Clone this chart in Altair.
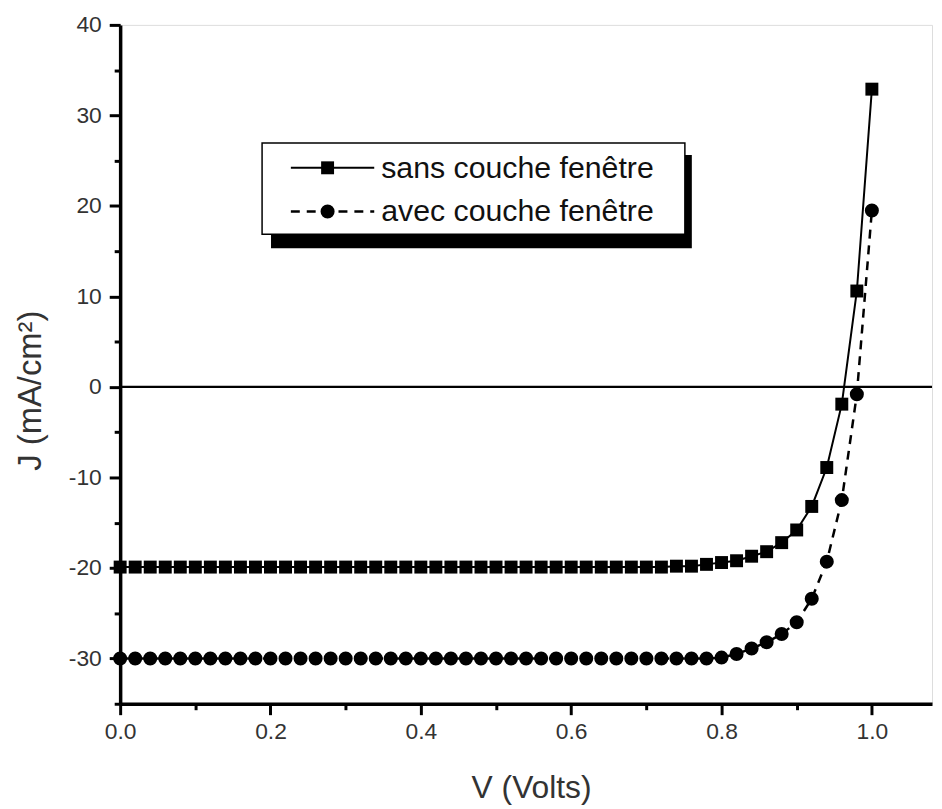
import altair as alt
import pandas as pd

# ---- data ----
V = [0.00, 0.02, 0.04, 0.06, 0.08, 0.10, 0.12, 0.14, 0.16, 0.18,
     0.20, 0.22, 0.24, 0.26, 0.28, 0.30, 0.32, 0.34, 0.36, 0.38,
     0.40, 0.42, 0.44, 0.46, 0.48, 0.50, 0.52, 0.54, 0.56, 0.58,
     0.60, 0.62, 0.64, 0.66, 0.68, 0.70, 0.72, 0.74, 0.76, 0.78,
     0.80, 0.82, 0.84, 0.86, 0.88, 0.90, 0.92, 0.94, 0.96, 0.98, 1.00]

J_sans = [-19.9, -19.9, -19.9, -19.9, -19.9, -19.9, -19.9, -19.9, -19.9, -19.9,
          -19.9, -19.9, -19.9, -19.9, -19.9, -19.9, -19.9, -19.9, -19.9, -19.9,
          -19.9, -19.9, -19.9, -19.9, -19.9, -19.9, -19.9, -19.9, -19.9, -19.9,
          -19.9, -19.9, -19.9, -19.9, -19.9, -19.9, -19.9, -19.8, -19.8, -19.6,
          -19.4, -19.2, -18.7, -18.2, -17.2, -15.8, -13.2, -8.9, -1.9, 10.6, 32.9]

J_avec = [-30.0, -30.0, -30.0, -30.0, -30.0, -30.0, -30.0, -30.0, -30.0, -30.0,
          -30.0, -30.0, -30.0, -30.0, -30.0, -30.0, -30.0, -30.0, -30.0, -30.0,
          -30.0, -30.0, -30.0, -30.0, -30.0, -30.0, -30.0, -30.0, -30.0, -30.0,
          -30.0, -30.0, -30.0, -30.0, -30.0, -30.0, -30.0, -30.0, -30.0, -30.0,
          -29.9, -29.5, -28.9, -28.2, -27.3, -26.0, -23.4, -19.3, -12.5, -0.8, 19.5]

series_names = ["sans couche fenêtre", "avec couche fenêtre"]

x_ticks = [0.0, 0.1, 0.2, 0.3, 0.4, 0.5, 0.6, 0.7, 0.8, 0.9, 1.0]
y_ticks = [-35, -30, -25, -20, -15, -10, -5, 0, 5, 10, 15, 20, 25, 30, 35, 40]

# ---- tables ----
df_sans = pd.DataFrame({"V": V, "J": J_sans})
df_avec = pd.DataFrame({"V": V, "J": J_avec})
df_zero = pd.DataFrame({"J": [0]})
df_one = pd.DataFrame({"a": [0]})

W, H = 818, 684
FONT = "Liberation Sans"

xscale = alt.Scale(domain=[0, 1.08], nice=False, zero=False)
yscale = alt.Scale(domain=[-35, 40], nice=False, zero=False)

xaxis = alt.Axis(
    values=x_ticks,
    labelExpr="round(datum.value*10) % 2 == 0 ? format(datum.value, '.1f') : ''",
    tickSize={"condition": {"test": "round(datum.value*10) % 2 != 0", "value": 6}, "value": 11},
    tickWidth=3, tickColor="black",
    domainWidth=3.5, domainColor="black",
    grid=False, labelFlush=False, labelOverlap=False,
    labelFont=FONT, labelFontSize=23, labelColor="#333", labelPadding=6,
    title="V (Volts)", titleFont=FONT, titleFontSize=32, titleFontWeight="normal",
    titleColor="#333", titleX=414, titleY=84, titleBaseline="middle",
)
yaxis = alt.Axis(
    values=y_ticks,
    labelExpr="datum.value % 10 == 0 ? replace(datum.label, '\u2212', '-') : ''",
    tickSize={"condition": {"test": "datum.value % 10 != 0", "value": 6}, "value": 11},
    tickWidth=3, tickColor="black",
    domainWidth=3.5, domainColor="black",
    grid=False, labelFlush=False, labelOverlap=False,
    labelFont=FONT, labelFontSize=23, labelColor="#333", labelPadding=8,
    title="J (mA/cm²)", titleFont=FONT, titleFontSize=33, titleFontWeight="normal",
    titleColor="#333", titleX=-90, titleY=368, titleBaseline="middle",
)

base_x = alt.X("V:Q", scale=xscale, axis=xaxis)
base_y = alt.Y("J:Q", scale=yscale, axis=yaxis)

zero = alt.Chart(df_zero).mark_rule(color="black", strokeWidth=2.2).encode(
    y=base_y, x=alt.value(0), x2=alt.value(W)
)

line_sans = alt.Chart(df_sans).mark_line(color="black", strokeWidth=2).encode(x=base_x, y=base_y)
pts_sans = alt.Chart(df_sans).mark_point(shape="square", filled=True, color="black", size=170, opacity=1).encode(
    x=base_x, y=base_y)
line_avec = alt.Chart(df_avec).mark_line(color="black", strokeWidth=2.5, strokeDash=[9, 7]).encode(
    x=base_x, y=base_y)
pts_avec = alt.Chart(df_avec).mark_point(shape="circle", filled=True, color="black", size=200, opacity=1).encode(
    x=base_x, y=base_y)

# ---- legend box with drop shadow ----
shadow = alt.Chart(df_one).mark_rect(color="black").encode(
    x=alt.value(152), x2=alt.value(576), y=alt.value(131), y2=alt.value(225))
box = alt.Chart(df_one).mark_rect(fill="white", stroke="black", strokeWidth=1.5).encode(
    x=alt.value(143), x2=alt.value(569), y=alt.value(119), y2=alt.value(211))
leg_line1 = alt.Chart(df_one).mark_rule(color="black", strokeWidth=2).encode(
    x=alt.value(172), x2=alt.value(256), y=alt.value(144))
leg_pt1 = alt.Chart(df_one).mark_point(shape="square", filled=True, color="black", size=170, opacity=1).encode(
    x=alt.value(209), y=alt.value(144))
leg_line2 = alt.Chart(df_one).mark_rule(color="black", strokeWidth=2.5, strokeDash=[9, 7]).encode(
    x=alt.value(172), x2=alt.value(256), y=alt.value(188))
leg_pt2 = alt.Chart(df_one).mark_point(shape="circle", filled=True, color="black", size=200, opacity=1).encode(
    x=alt.value(209), y=alt.value(188))
leg_text1 = alt.Chart(df_one).mark_text(
    align="left", baseline="middle", font=FONT, fontSize=30.5, color="#111", text=series_names[0]
).encode(x=alt.value(263), y=alt.value(145))
leg_text2 = alt.Chart(df_one).mark_text(
    align="left", baseline="middle", font=FONT, fontSize=30.5, color="#111", text=series_names[1]
).encode(x=alt.value(263), y=alt.value(189))

chart = alt.layer(
    zero, line_sans, line_avec, pts_sans, pts_avec,
    shadow, box, leg_line1, leg_line2, leg_pt1, leg_pt2, leg_text1, leg_text2
).properties(
    width=W, height=H,
    autosize=alt.AutoSizeParams(type="none"),
    padding={"left": 113, "top": 14, "right": 2, "bottom": 100},
).configure_view(stroke=None).configure_axis(
    grid=False, domainWidth=3.5, domainColor="black", tickWidth=3, tickColor="black"
).configure(background="white")

chart.save("out.html", embed_options={"renderer": "svg", "actions": False})
